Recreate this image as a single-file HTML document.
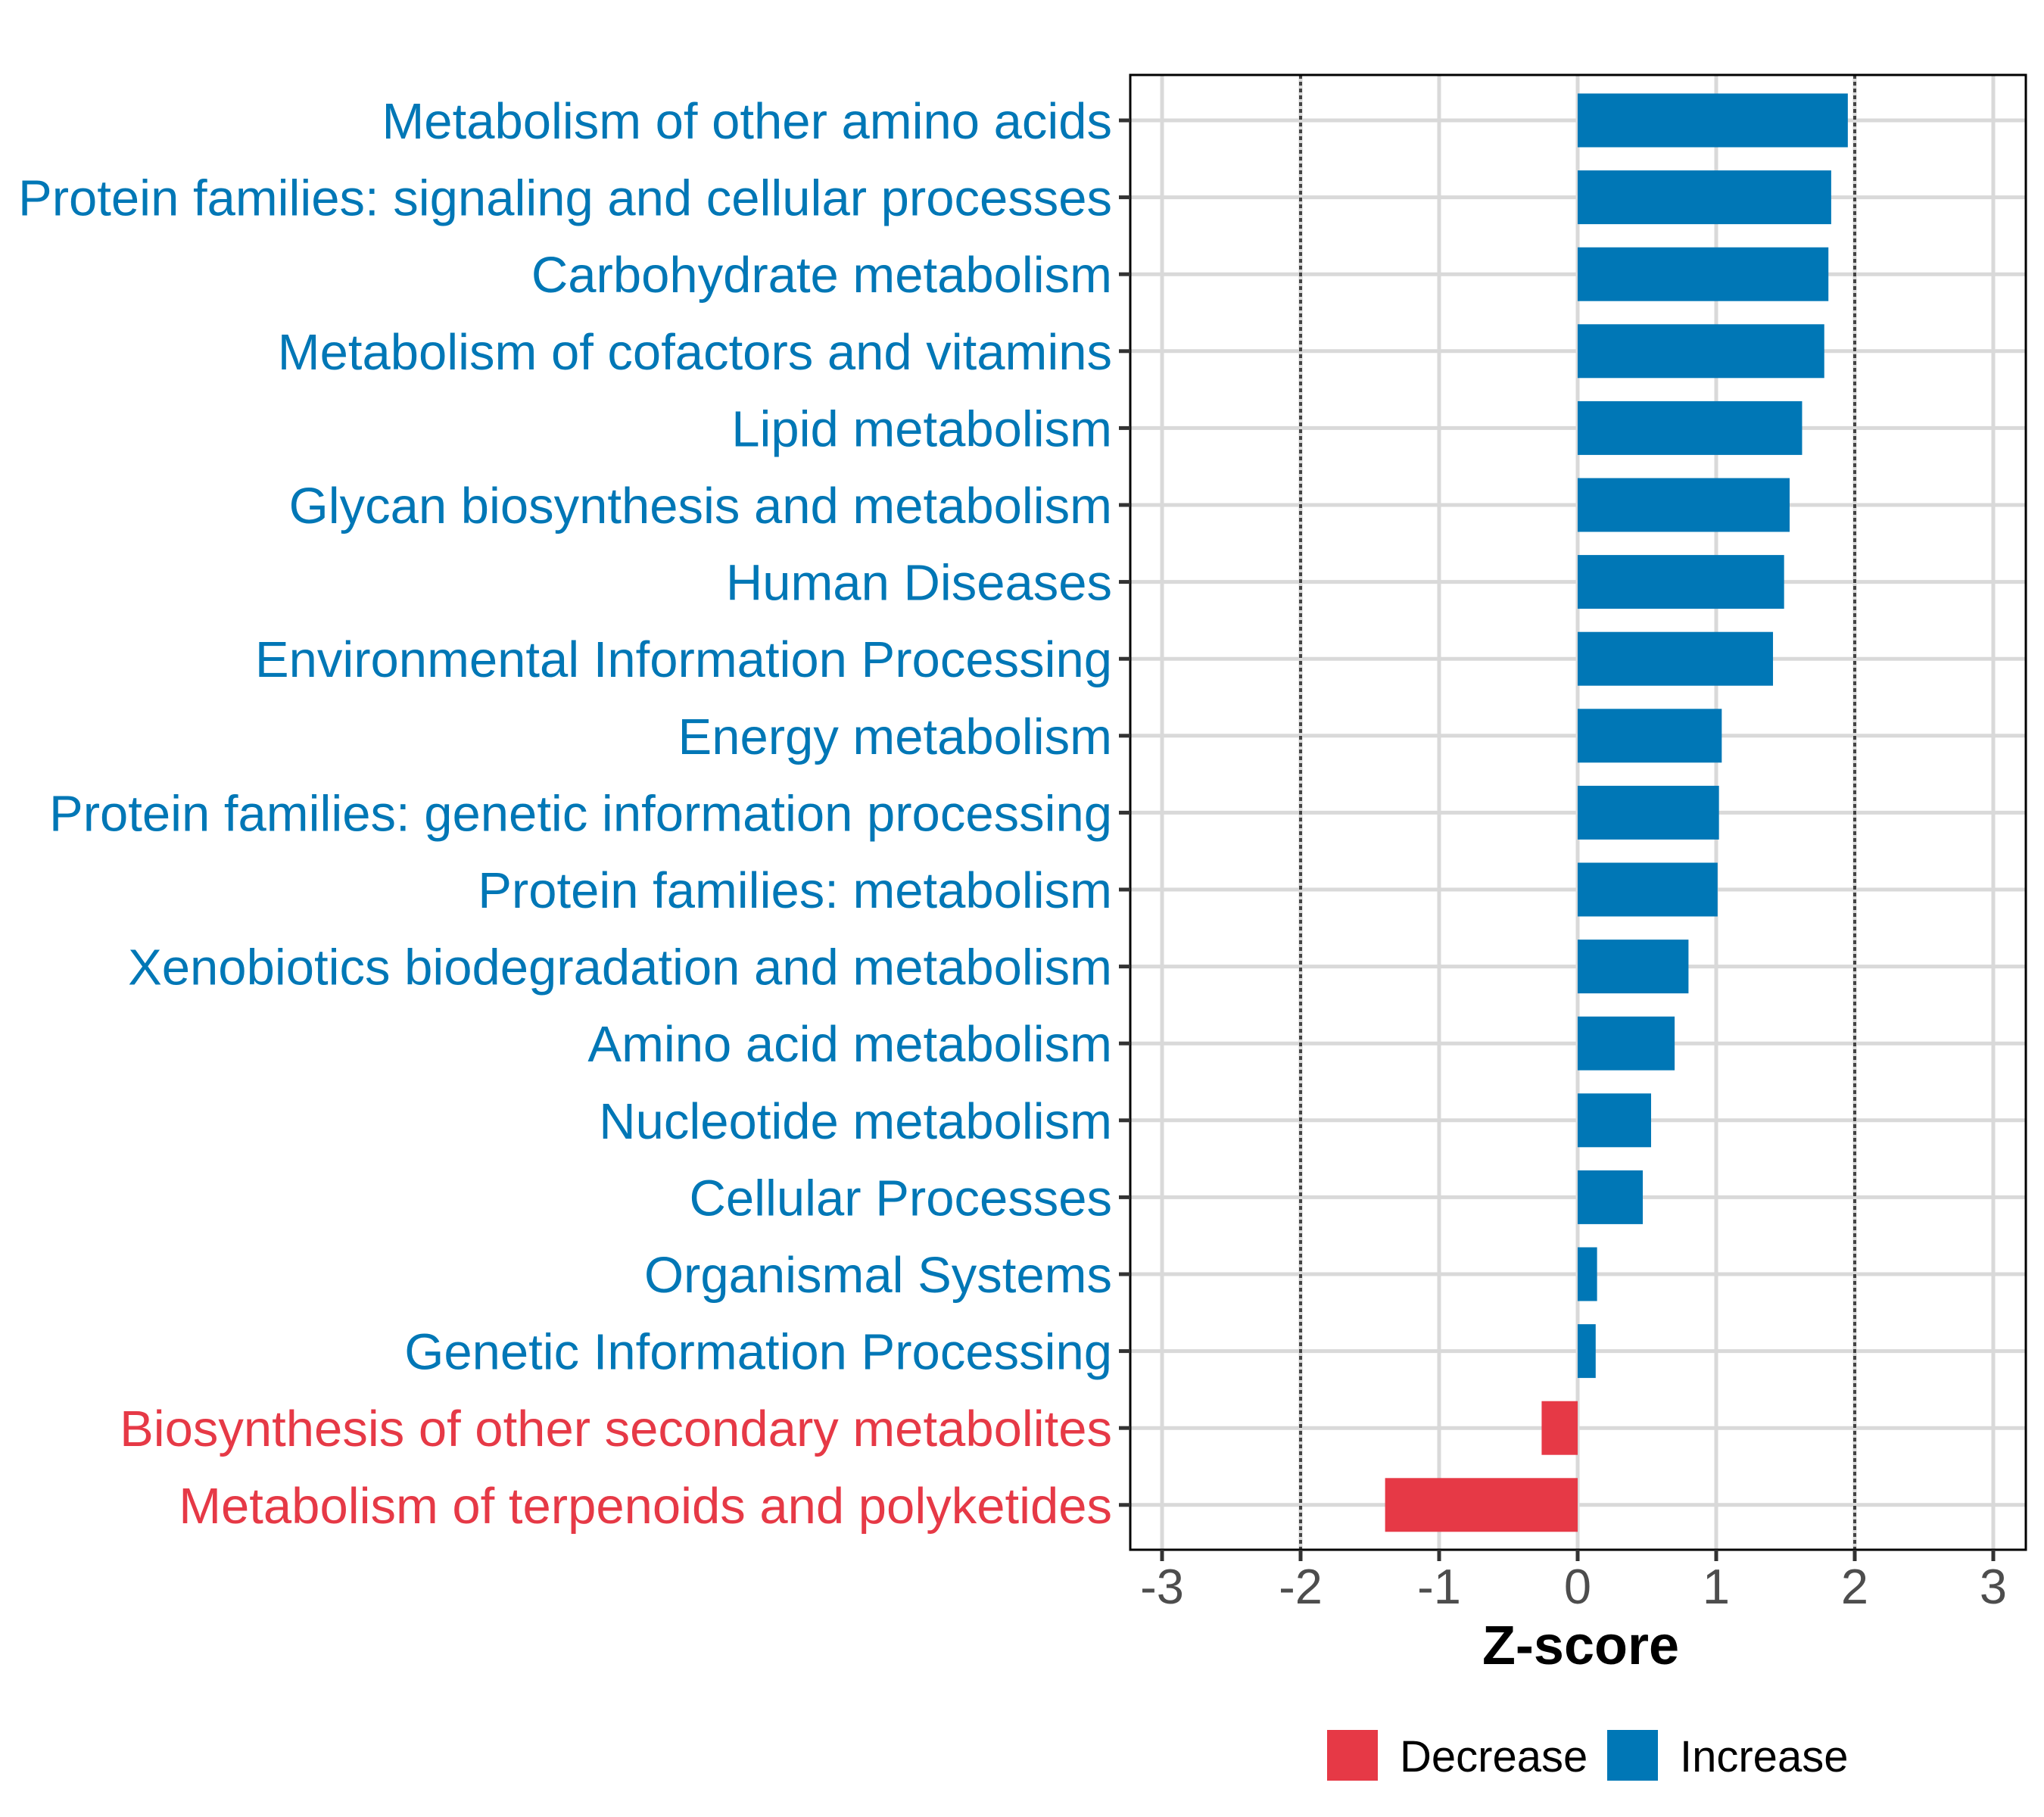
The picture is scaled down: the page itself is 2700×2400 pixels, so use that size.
<!DOCTYPE html>
<html><head><meta charset="utf-8"><style>
html,body{margin:0;padding:0;background:#fff;}
svg{display:block;font-family:"Liberation Sans",Arial,sans-serif;}
</style></head><body>
<svg id="chart" width="2700" height="2400" viewBox="0 0 2700 2400" xmlns="http://www.w3.org/2000/svg">
<rect width="2700" height="2400" fill="#fff"/>
<g id="grid"></g><g id="bars"></g><g id="axes"></g>
</svg>
<script>
const categories = ["Metabolism of other amino acids","Protein families: signaling and cellular processes","Carbohydrate metabolism","Metabolism of cofactors and vitamins","Lipid metabolism","Glycan biosynthesis and metabolism","Human Diseases","Environmental Information Processing","Energy metabolism","Protein families: genetic information processing","Protein families: metabolism","Xenobiotics biodegradation and metabolism","Amino acid metabolism","Nucleotide metabolism","Cellular Processes","Organismal Systems","Genetic Information Processing","Biosynthesis of other secondary metabolites","Metabolism of terpenoids and polyketides"];
const zscores = [1.95,1.83,1.81,1.78,1.62,1.53,1.49,1.41,1.04,1.02,1.01,0.80,0.70,0.53,0.47,0.14,0.13,-0.26,-1.39];
const xTicks = [-3,-2,-1,0,1,2,3];
const thresholds = [-2,2];
const legendLabels = ["Decrease","Increase"];

const NS="http://www.w3.org/2000/svg";
const L=1493,R=2676,T=99,B=2047;
const X0=2084,U=183;
const Y0=159,STEP=101.6,BH=71;
const BLUE="#0077b6",RED="#e63946";
function xs(v){return X0+v*U;}
function ys(i){return Y0+i*STEP;}
function mk(tag,attrs,parent,text){const e=document.createElementNS(NS,tag);for(const k in attrs)e.setAttribute(k,attrs[k]);if(text!==undefined)e.textContent=text;parent.appendChild(e);return e;}
const grid=document.getElementById('grid'),bars=document.getElementById('bars'),axes=document.getElementById('axes');

xTicks.forEach(t=>{
  const g=mk('line',{x1:xs(t),x2:xs(t),y1:T,y2:B,stroke:'#d9d9d9','stroke-width':5},grid);
  
  
});
categories.forEach((c,i)=>{
  const g=mk('line',{x1:L,x2:R,y1:ys(i),y2:ys(i),stroke:'#d9d9d9','stroke-width':5},grid);
  
  
});
zscores.forEach((v,i)=>{
  const x1=Math.min(xs(0),xs(v)),w=Math.abs(xs(v)-xs(0));
  const b=mk('rect',{x:x1,y:ys(i)-BH/2,width:w,height:BH,fill:v<0?RED:BLUE},bars);
  
  
});
thresholds.forEach(t=>{
  const d=mk('line',{x1:xs(t),x2:xs(t),y1:T,y2:B,stroke:'#444','stroke-width':4,'stroke-dasharray':'5 4'},bars);
  
  
});
const frame=mk('rect',{x:L,y:T,width:R-L,height:B-T,fill:'none',stroke:'#000','stroke-width':3},axes);


categories.forEach((c,i)=>{
  const tk=mk('line',{x1:L-15,x2:L,y1:ys(i),y2:ys(i),stroke:'#333','stroke-width':5},axes);
  
  
  const lb=mk('text',{x:1469,y:ys(i)+24,'text-anchor':'end','font-size':67,fill:zscores[i]<0?RED:BLUE},axes,c);
  
  
});
xTicks.forEach(t=>{
  const tk=mk('line',{x1:xs(t),x2:xs(t),y1:B,y2:B+15,stroke:'#333','stroke-width':5},axes);
  
  
  const lb=mk('text',{x:xs(t),y:2118,'text-anchor':'middle','font-size':65,fill:'#4d4d4d'},axes,String(t));
  
  
});
const xt=mk('text',{x:2088,y:2198,'text-anchor':'middle','font-size':72,'font-weight':'bold',fill:'#000'},axes,'Z-score');


const legKeyX=[1753,2123],legTextX=[1849,2219],legCols=[RED,BLUE];
legendLabels.forEach((l,i)=>{
  const g=mk('g',{},axes);
  
  
  mk('rect',{x:legKeyX[i],y:2285,width:67,height:67,fill:legCols[i]},g);
  mk('text',{x:legTextX[i],y:2340,'font-size':58,fill:'#000'},g,l);
});
</script>
</body></html>
